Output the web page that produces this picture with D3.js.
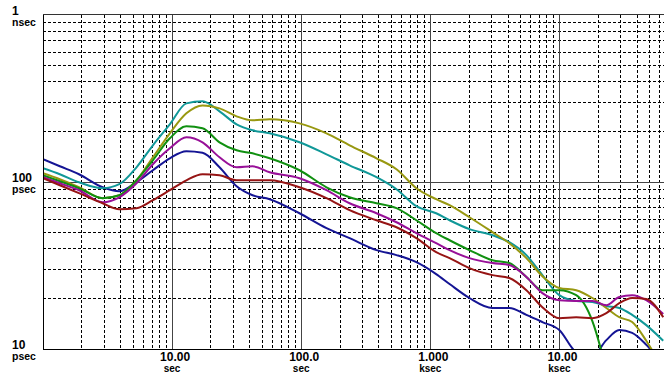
<!DOCTYPE html>
<html>
<head>
<meta charset="utf-8">
<script src="https://cdn.jsdelivr.net/npm/d3@7"></script>
<style>
    body { margin: 0; background: #fff; }
    svg { display: block; }
    text { font-family: Arial, "Liberation Sans", sans-serif; font-weight: bold; fill: #000; }
</style>
</head>
<body>
<svg id="chart" width="664" height="373"></svg>
<script>
// averaging time (sec)
var taus = [ 1, 1.35, 1.9, 2.9, 3.9, 5.3, 7.1, 9.6, 12.9, 17.2, 23.3, 31.6, 42, 57, 97, 157, 237, 383, 547, 780,
    1110, 1410, 2010, 3030, 4090, 5550, 7380, 9980, 13500, 18000, 23100, 29100, 36600, 47100, 63700 ];

// deviation (psec), one array per trace
var navy = [ 136.8, 124.2, 111.3, 93.0, 88.0, 99.7, 117.6, 138.7, 152.7, 149.6, 122.5, 94.3, 83.3, 78.9, 65.0, 52.9, 46.1, 39.1, 36.5, 33.1,
    28.1, 24.5, 20.2, 17.6, 17.6, 16.0, 14.5, 13.0, 9.6, 9.1, 11.3, 13.0, 12.5, 10.6, 8.0 ];
var teal = [ 120.8, 111.3, 99.7, 91.8, 97.0, 122.5, 165.9, 221.5, 295.7, 304.0, 264.9, 221.5, 203.9, 195.6, 172.9, 146.5, 125.9, 106.8, 90.5, 71.6,
    65.0, 59.0, 52.2, 48.0, 43.6, 36.5, 27.7, 21.0, 19.4, 19.1, 18.1, 17.6, 16.0, 13.9, 11.2 ];
var olive = [ 112.8, 103.9, 93.0, 80.0, 83.3, 102.4, 140.6, 195.6, 257.7, 287.6, 276.0, 247.3, 234.0, 237.3, 224.5, 195.6, 165.9, 138.7, 119.2, 91.8,
    78.9, 72.6, 61.5, 50.1, 43.0, 35.0, 27.3, 23.2, 22.5, 20.2, 17.6, 15.5, 14.5, 11.2, 7.5 ];
var green = [ 109.7, 101.0, 91.8, 80.0, 83.3, 102.4, 134.9, 182.6, 215.4, 209.6, 172.9, 154.8, 148.5, 138.7, 117.6, 93.0, 81.0, 74.6, 69.7, 59.0,
    49.4, 44.8, 39.1, 34.0, 32.7, 27.0, 22.5, 22.5, 21.0, 14.7, 7.5, null, null, null, null ];
var purple = [ 106.8, 98.3, 89.3, 75.7, 81.0, 98.3, 127.7, 159.1, 185.2, 172.9, 140.6, 122.5, 124.2, 114.4, 105.3, 89.3, 74.6, 65.0, 57.4, 49.4,
    43.0, 39.1, 35.0, 32.7, 31.8, 27.0, 21.6, 19.6, 19.4, 19.4, 18.3, 20.5, 21.0, 19.6, 16.2 ];
var maroon = [ 105.3, 95.6, 85.7, 74.6, 68.7, 69.7, 77.8, 89.3, 102.4, 111.3, 109.7, 102.4, 102.4, 102.4, 93.0, 80.0, 67.8, 59.0, 53.6, 46.1,
    38.0, 35.0, 30.5, 27.7, 26.6, 22.5, 17.8, 15.3, 15.5, 15.3, 16.4, 18.8, 20.2, 19.9, 15.5 ];

var xTicks = [ 10, 100, 1000, 10000 ];
var xTickNums = [ "10.00", "100.0", "1.000", "10.00" ];
var xTickUnits = [ "sec", "sec", "ksec", "ksec" ];
var yTicks = [ 1000, 100, 10 ];
var yTickNums = [ "1", "100", "10" ];
var yTickUnits = [ "nsec", "psec", "psec" ];

var Plot = function( config ) {
    var svg = d3.select( "#chart" ), x, y, grid, traces;

    function init() {
        x = d3.scaleLog().domain( [ 1, 1e5 ] ).range( [ 43, 688.5 ] );
        y = d3.scaleLog().domain( [ 10, 1000 ] ).range( [ 349, 15 ] );

        svg.append( "defs" ).append( "clipPath" ).attr( "id", "plot-clip" )
            .append( "rect" ).attr( "x", 43 ).attr( "y", 15 ).attr( "width", 700 ).attr( "height", 334 );

        drawGrid();
        drawTraces();
        drawFrame();
        drawLabels();
    }

    function isDecade( v ) {
        return Math.abs( Math.log10( v ) - Math.round( Math.log10( v ) ) ) < 1e-6;
    }

    function drawGrid() {
        grid = svg.append( "g" ).attr( "class", "grid" ).attr( "shape-rendering", "crispEdges" );

        grid.selectAll( "line.vx" )
            .data( x.ticks().filter( function( t ) { return !isDecade( t ); } ) )
            .enter().append( "line" )
            .attr( "class", "vx" )
            .attr( "x1", x ).attr( "x2", x )
            .attr( "y1", 15 ).attr( "y2", 349 )
            .attr( "stroke", "#000" ).attr( "stroke-dasharray", "3,2" );

        grid.selectAll( "line.hy" )
            .data( y.ticks().filter( function( t ) { return !isDecade( t ); } ) )
            .enter().append( "line" )
            .attr( "class", "hy" )
            .attr( "y1", y ).attr( "y2", y )
            .attr( "x1", 43 ).attr( "x2", 664 )
            .attr( "stroke", "#000" ).attr( "stroke-dasharray", "3,2" );

        grid.selectAll( "line.vmaj" )
            .data( xTicks )
            .enter().append( "line" )
            .attr( "class", "vmaj" )
            .attr( "x1", x ).attr( "x2", x )
            .attr( "y1", 15 ).attr( "y2", 349 )
            .attr( "stroke", "#444" );

        grid.append( "line" )
            .attr( "x1", 43 ).attr( "x2", 664 )
            .attr( "y1", y( 100 ) ).attr( "y2", y( 100 ) )
            .attr( "stroke", "#444" );
    }

    function drawTraces() {
        var line = d3.line()
            .defined( function( d ) { return d[ 1 ] !== null; } )
            .x( function( d ) { return x( d[ 0 ] ); } )
            .y( function( d ) { return y( d[ 1 ] ); } )
            .curve( d3.curveMonotoneX );

        traces = svg.append( "g" ).attr( "clip-path", "url(#plot-clip)" );

        config.series.forEach( function( s ) {
            traces.append( "path" )
                .datum( taus.map( function( t, i ) { return [ t, s.values[ i ] ]; } ) )
                .attr( "d", line )
                .attr( "fill", "none" )
                .attr( "stroke", s.color )
                .attr( "stroke-width", 2 )
                .attr( "stroke-linejoin", "round" );
        });
    }

    function drawFrame() {
        var frame = svg.append( "g" ).attr( "shape-rendering", "crispEdges" );
        frame.append( "line" ).attr( "x1", 43.5 ).attr( "x2", 43.5 ).attr( "y1", 14.5 ).attr( "y2", 349.5 ).attr( "stroke", "#000" );
        frame.append( "line" ).attr( "x1", 43 ).attr( "x2", 664 ).attr( "y1", 14.5 ).attr( "y2", 14.5 ).attr( "stroke", "#333" );
        frame.append( "line" ).attr( "x1", 43 ).attr( "x2", 664 ).attr( "y1", 349.5 ).attr( "y2", 349.5 ).attr( "stroke", "#000" );
    }

    function drawLabels() {
        var labels = svg.append( "g" ).attr( "class", "labels" );

        xTicks.forEach( function( t, i ) {
            labels.append( "text" )
                .attr( "x", x( t ) + 3 ).attr( "y", 360.5 )
                .attr( "text-anchor", "middle" ).style( "font-size", "12px" )
                .text( xTickNums[ i ] );
            labels.append( "text" )
                .attr( "x", x( t ) ).attr( "y", 372 )
                .attr( "text-anchor", "middle" ).style( "font-size", "10px" )
                .text( xTickUnits[ i ] );
        });

        yTicks.forEach( function( t, i ) {
            labels.append( "text" )
                .attr( "x", 12 ).attr( "y", y( t ) - 0.5 )
                .style( "font-size", "12px" )
                .text( yTickNums[ i ] );
            labels.append( "text" )
                .attr( "x", 12 ).attr( "y", y( t ) + 11 )
                .style( "font-size", "10.5px" )
                .text( yTickUnits[ i ] );
        });
    }

    init();
};

Plot({
    series: [
        { values: navy,   color: "#141494" },
        { values: teal,   color: "#109898" },
        { values: olive,  color: "#989810" },
        { values: green,  color: "#109010" },
        { values: purple, color: "#981098" },
        { values: maroon, color: "#961414" }
    ]
});
</script>
</body>
</html>
